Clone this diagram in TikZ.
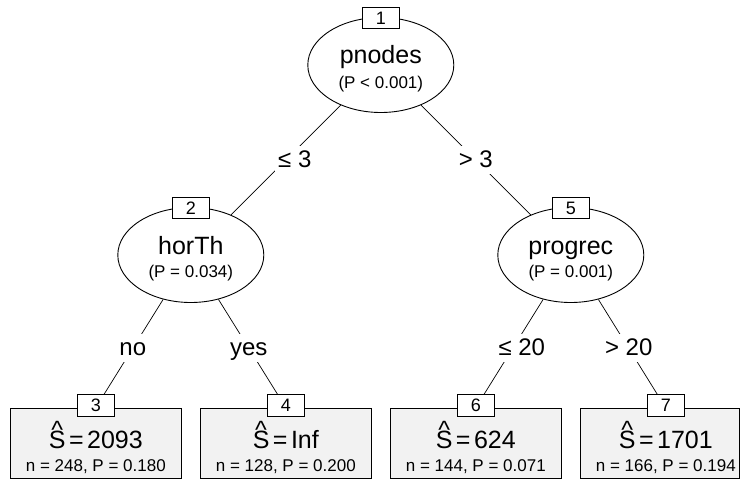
\documentclass[tikz,border=0pt]{standalone}
\usepackage{fontspec}
\setmainfont{Liberation Sans}
\usetikzlibrary{shapes.geometric}
\newcommand\bigf{\fontsize{25}{30}\selectfont}
\newcommand\edgef{\fontsize{24}{29}\selectfont}
\newcommand\smallf{\fontsize{17}{20}\selectfont}
\newcommand\numf{\fontsize{18}{21}\selectfont}
\newcommand\hatS{{\setbox0\hbox{S}\hbox to \wd0{\hss\raisebox{0.4em}{\textasciicircum}\hss}\kern-\wd0 S}}
\newcommand\estim[1]{\hatS\kern3.5pt=\kern3.5pt#1}
\begin{document}
\begin{tikzpicture}[x=1pt,y=-1pt,
  innernode/.style={ellipse,draw,line width=0.9pt,fill=white,minimum width=146pt,minimum height=95pt,inner sep=0pt},
  leafnode/.style={rectangle,draw,line width=0.9pt,fill=gray!10,minimum height=70.5pt,inner sep=0pt},
  idbox/.style={rectangle,draw,line width=0.9pt,fill=white,minimum width=37.5pt,minimum height=21.5pt,inner sep=0pt,font=\numf},
  conn/.style={line width=0.7pt},
  elab/.style={fill=white,inner xsep=3pt,inner ysep=3.5pt,text height=18pt,text depth=3pt,font=\edgef},
  bigtxt/.style={anchor=base,font=\bigf,inner sep=0pt},
  smalltxt/.style={anchor=base,font=\smallf,inner sep=0pt}]
\fill[white] (0,0) rectangle (740,480);
\clip (0,0) rectangle (740,480);
% inner nodes
\node[innernode] (n1) at (380.8,65) {};
\node[innernode] (n2) at (190.8,255) {};
\node[innernode] (n5) at (570.8,255) {};
% leaves
\node[leafnode,minimum width=171.7pt] (l3) at (95.8,443.25) {};
\node[leafnode,minimum width=171.7pt] (l4) at (285.8,443.25) {};
\node[leafnode,minimum width=171.7pt] (l6) at (475.8,443.25) {};
\node[leafnode,minimum width=159.4pt] (l7) at (659.7,443.25) {};
\coordinate (t7) at (665.8,408);
% edges
\draw[conn] (n1) -- node[elab,xshift=9pt] (e12) {≤ 3} (n2);
\draw[conn] (n1) -- node[elab] (e15) {> 3} (n5);
\draw[conn] (n2) -- node[elab,pos=0.45] (e23) {no} (l3.north);
\draw[conn] (n2) -- node[elab,pos=0.45] (e24) {yes} (l4.north);
\draw[conn] (n5) -- node[elab,pos=0.45,xshift=9pt] (e56) {≤ 20} (l6.north);
\draw[conn] (n5) -- node[elab,pos=0.45] (e57) {> 20} (t7);
% id boxes
\node[idbox] (b1) at (380.8,18) {1};
\node[idbox] (b2) at (190.8,208) {2};
\node[idbox] (b5) at (570.8,208) {5};
\node[idbox] (b3) at (95.8,405.5) {3};
\node[idbox] (b4) at (285.8,405.5) {4};
\node[idbox] (b6) at (475.8,405.5) {6};
\node[idbox] (b7) at (665.8,405.5) {7};
% inner node texts
\node[bigtxt] (n1v) at (380.8,63) {pnodes};
\node[smalltxt] (n1p) at (380.8,88) {(P < 0.001)};
\node[bigtxt] (n2v) at (190.8,254) {horTh};
\node[smalltxt] (n2p) at (190.8,277) {(P = 0.034)};
\node[bigtxt] (n5v) at (570.8,254) {progrec};
\node[smalltxt] (n5p) at (570.8,277) {(P = 0.001)};
% leaf texts
\node[bigtxt] (l3s) at (95.8,448) {\estim{2093}};
\node[smalltxt] (l3n) at (95.8,471.5) {n = 248, P = 0.180};
\node[bigtxt] (l4s) at (285.8,448) {\estim{Inf}};
\node[smalltxt] (l4n) at (285.8,471.5) {n = 128, P = 0.200};
\node[bigtxt] (l6s) at (475.8,448) {\estim{624}};
\node[smalltxt] (l6n) at (475.8,471.5) {n = 144, P = 0.071};
\node[bigtxt] (l7s) at (665.8,448) {\estim{1701}};
\node[smalltxt] (l7n) at (665.8,471.5) {n = 166, P = 0.194};
\end{tikzpicture}
\end{document}
